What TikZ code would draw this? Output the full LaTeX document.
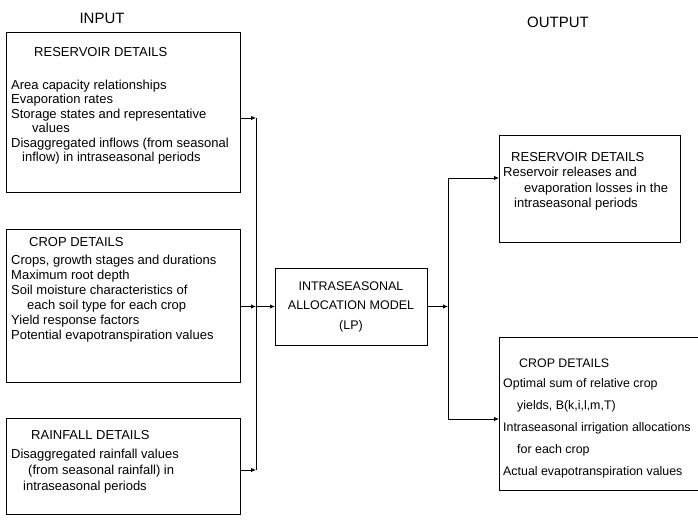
\documentclass[tikz,border=0pt]{standalone}
\usepackage{fontspec}
\setmainfont{Liberation Sans}
\usetikzlibrary{arrows.meta}

\begin{document}
\begin{tikzpicture}[x=1pt,y=-1pt,
	box/.style={draw,line width=0.9pt,inner sep=0pt,outer sep=0pt,anchor=north west},
	txt/.style={align=left,inner sep=0pt,anchor=north west},
	head/.style={font=\fontsize{15}{18}\selectfont},
	arr/.style={line width=0.9pt,-{Latex[length=5pt,width=4.5pt]}},
	bus/.style={line width=0.9pt}]
	\useasboundingbox (0,0) rectangle (698,519);

	\node[head] (inlabel) at (102,18) {INPUT};
	\node[head] (outlabel) at (558,22) {OUTPUT};

	% input side
	\node[box,minimum width=234pt,minimum height=160pt] (resin) at (6,32) {};
	\node[box,minimum width=234pt,minimum height=153pt] (cropin) at (6,229) {};
	\node[box,minimum width=234pt,minimum height=96pt] (rainin) at (6,418) {};

	\node[txt,font=\fontsize{13}{14.4}\selectfont] (resintxt) at (11,47.3) {\hspace*{23pt}RESERVOIR DETAILS\\[18.6pt]
		Area capacity relationships\\
		Evaporation rates\\
		Storage states and representative\\
		\hspace*{21pt}values\\
		Disaggregated inflows (from seasonal\\
		\hspace*{11pt}inflow) in intraseasonal periods};
	\node[txt,font=\fontsize{13}{15}\selectfont] (cropintxt) at (11,237.3) {\hspace*{18pt}CROP DETAILS\\[3pt]
		Crops, growth stages and durations\\
		Maximum root depth\\
		Soil moisture characteristics of\\
		\hspace*{16pt}each soil type for each crop\\
		Yield response factors\\
		Potential evapotranspiration values};
	\node[txt,font=\fontsize{13}{16}\selectfont] (rainintxt) at (11,430.3) {\hspace*{20pt}RAINFALL DETAILS\\[3pt]
		Disaggregated rainfall values\\
		\hspace*{17pt}(from seasonal rainfall) in\\
		\hspace*{12pt}intraseasonal periods};

	% model
	\node[box,anchor=center,minimum width=152pt,minimum height=77pt,align=center,
		font=\fontsize{12.5}{19.5}\selectfont] (model) at (351,306.5) {INTRASEASONAL\\ALLOCATION MODEL\\(LP)};

	% output side
	\node[box,minimum width=181pt,minimum height=107pt] (resout) at (499,135) {};
	\node[box,minimum width=203pt,minimum height=153pt] (cropout) at (499,337) {};

	\node[txt,font=\fontsize{13}{15.3}\selectfont] (resouttxt) at (503,152.3) {\hspace*{8pt}RESERVOIR DETAILS\\
		Reservoir releases and\\
		\hspace*{21pt}evaporation losses in the\\
		\hspace*{11pt}intraseasonal periods};
	\node[txt,font=\fontsize{12.4}{22}\selectfont] (cropouttxt) at (503,358.5) {\hspace*{16pt}CROP DETAILS\\[-2pt]
		Optimal sum of relative crop\\
		\hspace*{14pt}yields, B(k,i,l,m,T)\\
		Intraseasonal irrigation allocations\\
		\hspace*{14pt}for each crop\\
		Actual evapotranspiration values};

	% connectors
	\coordinate (ltop) at (256,118);
	\coordinate (lbot) at (256,470);
	\coordinate (rtop) at (448,178);
	\coordinate (rbot) at (448,419);

	\draw[bus] (ltop) -- (lbot);
	\draw[arr] (resin.east |- ltop) -- (ltop);
	\draw[arr] (rainin.east |- lbot) -- (lbot);
	\draw[arr] (cropin.east |- model.west) -- (ltop |- model.west);
	\draw[arr] (ltop |- model.west) -- (model.west);

	\draw[bus] (rtop) -- (rbot);
	\draw[arr] (model.east) -- (model.east -| rtop);
	\draw[arr] (rtop) -- (rtop -| resout.west);
	\draw[arr] (rbot) -- (rbot -| cropout.west);
\end{tikzpicture}
\end{document}
